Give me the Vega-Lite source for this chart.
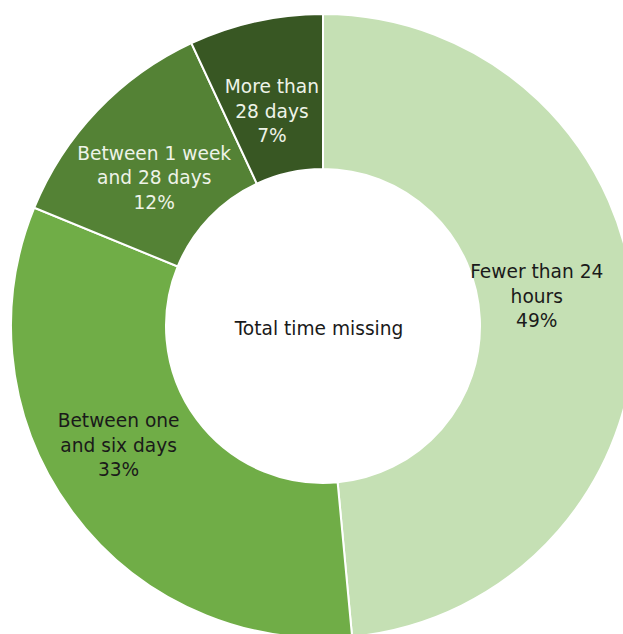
{
  "$schema": "https://vega.github.io/schema/vega-lite/v6.json",
  "description": "Donut chart of total time missing",
  "width": 646,
  "height": 652,
  "padding": 0,
  "autosize": "none",
  "background": "white",
  "config": {
    "view": {"stroke": null},
    "text": {"font": "DejaVu Sans", "fontSize": 18.6}
  },
  "data": {
    "values": [
      {"label": "Fewer than 24\nhours\n49%", "pct": 49},
      {"label": "Between one\nand six days\n33%", "pct": 33},
      {"label": "Between 1 week\nand 28 days\n12%", "pct": 12},
      {"label": "More than\n28 days\n7%", "pct": 7}
    ]
  },
  "layer": [
    {
      "mark": {"type": "arc", "outerRadius": 312, "innerRadius": 157, "stroke": "white", "strokeWidth": 2},
      "encoding": {
        "theta": {"field": "pct", "type": "quantitative", "stack": true},
        "order": {"field": "pct", "sort": "descending"},
        "color": {
          "field": "label",
          "type": "nominal",
          "sort": null,
          "scale": {
            "domain": ["Fewer than 24\nhours\n49%", "Between one\nand six days\n33%", "Between 1 week\nand 28 days\n12%", "More than\n28 days\n7%"],
            "range": ["#c5e0b4", "#70ad47", "#548235", "#385723"]
          },
          "legend": null
        }
      }
    },
    {
      "mark": {"type": "text", "radius": 232, "dx": -18, "dy": -43, "lineBreak": "\n", "lineHeight": 24.5, "color": "#1a1a1a"},
      "encoding": {
        "theta": {"field": "pct", "type": "quantitative", "stack": true},
        "order": {"field": "pct", "sort": "descending"},
        "detail": {"field": "label"},
        "text": {"field": "label"},
        "opacity": {"condition": {"test": "datum.pct > 20", "value": 1}, "value": 0}
      }
    },
    {
      "mark": {"type": "text", "radius": 232, "dx": -1, "dy": -12, "lineBreak": "\n", "lineHeight": 24.5, "color": "#eef3e8"},
      "encoding": {
        "theta": {"field": "pct", "type": "quantitative", "stack": true},
        "order": {"field": "pct", "sort": "descending"},
        "detail": {"field": "label"},
        "text": {"field": "label"},
        "opacity": {"condition": {"test": "datum.pct < 20", "value": 1}, "value": 0}
      }
    },
    {
      "data": {"values": [{"center": "Total time missing"}]},
      "mark": {"type": "text", "color": "#1a1a1a", "dx": -4, "dy": 3},
      "encoding": {"text": {"field": "center"}}
    }
  ]
}
